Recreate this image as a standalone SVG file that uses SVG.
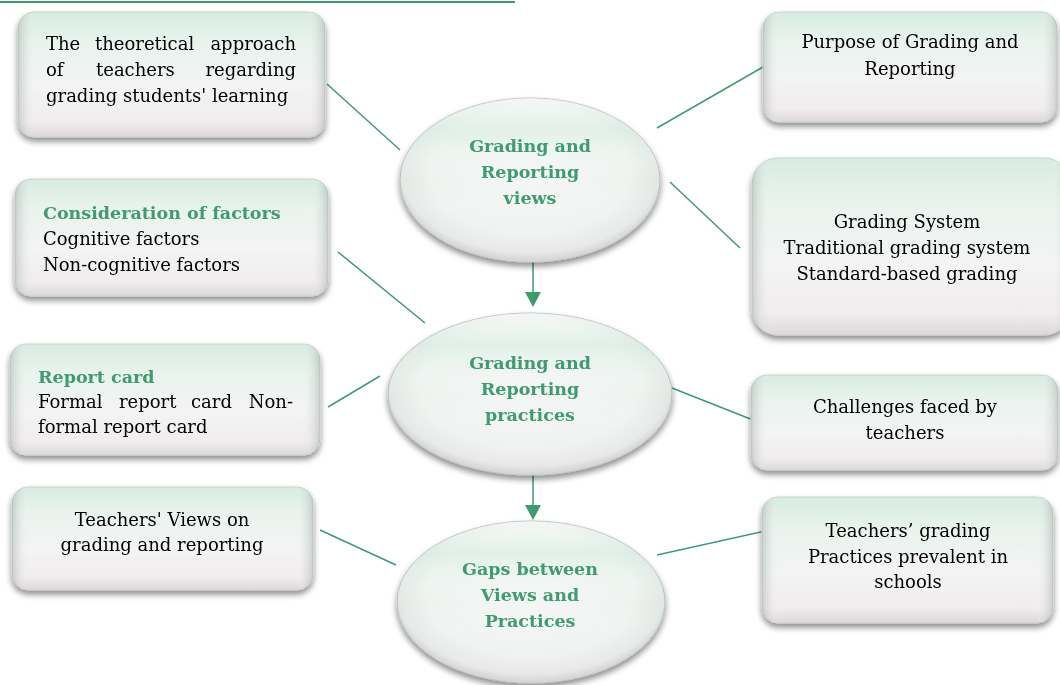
<svg xmlns="http://www.w3.org/2000/svg" width="1060" height="685" viewBox="0 0 1060 685">
  <defs>
    <linearGradient id="fillV" x1="0" y1="0" x2="0" y2="1">
      <stop offset="0" stop-color="#d6ece1"/>
      <stop offset="0.25" stop-color="#e9f3ee"/>
      <stop offset="0.6" stop-color="#f3f4f3"/>
      <stop offset="0.88" stop-color="#f1ecef"/>
      <stop offset="1" stop-color="#dcd8da"/>
    </linearGradient>
    <linearGradient id="edgeH" x1="0" y1="0" x2="1" y2="0">
      <stop offset="0" stop-color="#9aa59f" stop-opacity="0.45"/>
      <stop offset="0.06" stop-color="#ffffff" stop-opacity="0"/>
      <stop offset="0.94" stop-color="#ffffff" stop-opacity="0"/>
      <stop offset="1" stop-color="#9aa59f" stop-opacity="0.45"/>
    </linearGradient>
    <radialGradient id="ellFill" cx="0.5" cy="0.45" r="0.55">
      <stop offset="0" stop-color="#f4f6f5"/>
      <stop offset="0.7" stop-color="#eef3f0"/>
      <stop offset="0.9" stop-color="#e2e7e4"/>
      <stop offset="1" stop-color="#b9bfbc"/>
    </radialGradient>
    <linearGradient id="ellTint" x1="0" y1="0" x2="0" y2="1">
      <stop offset="0" stop-color="#ffffff" stop-opacity="0.5"/>
      <stop offset="0.2" stop-color="#d3ede0" stop-opacity="0.5"/>
      <stop offset="0.5" stop-color="#ffffff" stop-opacity="0"/>
      <stop offset="1" stop-color="#efe6ec" stop-opacity="0.5"/>
    </linearGradient>
    <filter id="shadow" x="-10%" y="-10%" width="120%" height="130%">
      <feGaussianBlur in="SourceAlpha" stdDeviation="3"/>
      <feOffset dx="0" dy="4" result="b"/>
      <feComponentTransfer><feFuncA type="linear" slope="0.45"/></feComponentTransfer>
      <feMerge><feMergeNode/><feMergeNode in="SourceGraphic"/></feMerge>
    </filter>
    <style>
      .box { fill: url(#fillV); stroke: #c9d2cd; stroke-width: 1; }
      .edge { fill: url(#edgeH); stroke: none; }
      .ell { fill: url(#ellFill); stroke: #b7beba; stroke-width: 1; }
      .tint { fill: url(#ellTint); stroke: none; }
      .t { font-family: "DejaVu Serif", "Liberation Serif", serif; font-size: 18px; fill: #000000; }
      .c { text-anchor: middle; }
      .e { text-anchor: end; }
      .g { fill: #3f9b6f; font-weight: bold; font-size: 17.5px; }
      .link { stroke: #3f9b6f; stroke-width: 1.5; fill: none; }
      .head { fill: #3f9b6f; }
    </style>
  </defs>

  <rect width="1060" height="685" fill="#ffffff"/>
  <!-- header rule -->
  <line x1="0" y1="2" x2="515" y2="2" stroke="#3f9b6f" stroke-width="2"/>

  <!-- connectors -->
  <g id="connectors">
    <line class="link" x1="327" y1="84" x2="400" y2="150"/>
    <line class="link" x1="763" y1="67" x2="657" y2="128"/>
    <line class="link" x1="670" y1="182" x2="740" y2="248"/>
    <line class="link" x1="338" y1="252" x2="425" y2="323"/>
    <line class="link" x1="328" y1="407" x2="380" y2="376"/>
    <line class="link" x1="672" y1="388" x2="753" y2="420"/>
    <line class="link" x1="320" y1="530" x2="396" y2="565"/>
    <line class="link" x1="657" y1="555" x2="765" y2="531"/>
    <line class="link" x1="533" y1="255" x2="533" y2="292"/>
    <path class="head" d="M525,292 L541,292 L533,307 Z"/>
    <line class="link" x1="533" y1="468" x2="533" y2="505"/>
    <path class="head" d="M525,505 L541,505 L533,520 Z"/>
  </g>

  <!-- left column -->
  <g id="node-theory" filter="url(#shadow)">
    <rect class="box" x="18" y="12" width="307" height="125" rx="16"/>
    <rect class="edge" x="18" y="12" width="307" height="125" rx="16"/>
    <text class="t" y="50"><tspan x="46">The</tspan><tspan x="95">theoretical</tspan><tspan x="296" class="e">approach</tspan></text>
    <text class="t" y="76"><tspan x="46">of</tspan><tspan x="96">teachers</tspan><tspan x="296" class="e">regarding</tspan></text>
    <text class="t" x="46" y="102">grading students' learning</text>
  </g>

  <g id="node-factors" filter="url(#shadow)">
    <rect class="box" x="15" y="179" width="313" height="117" rx="16"/>
    <rect class="edge" x="15" y="179" width="313" height="117" rx="16"/>
    <text class="t g" x="43" y="219">Consideration of factors</text>
    <text class="t" x="43" y="245">Cognitive factors</text>
    <text class="t" x="43" y="271">Non-cognitive factors</text>
  </g>

  <g id="node-reportcard" filter="url(#shadow)">
    <rect class="box" x="10" y="344" width="310" height="111" rx="16"/>
    <rect class="edge" x="10" y="344" width="310" height="111" rx="16"/>
    <text class="t g" x="38" y="383">Report card</text>
    <text class="t" y="408"><tspan x="38">Formal</tspan><tspan x="119">report</tspan><tspan x="191">card</tspan><tspan x="293" class="e">Non-</tspan></text>
    <text class="t" x="38" y="433">formal report card</text>
  </g>

  <g id="node-teacherviews" filter="url(#shadow)">
    <rect class="box" x="12" y="487" width="301" height="103" rx="16"/>
    <rect class="edge" x="12" y="487" width="301" height="103" rx="16"/>
    <text class="t c" x="162" y="526">Teachers' Views on</text>
    <text class="t c" x="162" y="551">grading and reporting</text>
  </g>

  <!-- right column -->
  <g id="node-purpose" filter="url(#shadow)">
    <rect class="box" x="763" y="12" width="294" height="110" rx="16"/>
    <rect class="edge" x="763" y="12" width="294" height="110" rx="16"/>
    <text class="t c" x="910" y="48">Purpose of Grading and</text>
    <text class="t c" x="910" y="75">Reporting</text>
  </g>

  <g id="node-system" filter="url(#shadow)">
    <rect class="box" x="752" y="158" width="318" height="177" rx="26"/>
    <rect class="edge" x="752" y="158" width="318" height="177" rx="26"/>
    <text class="t c" x="907" y="228">Grading System</text>
    <text class="t c" x="907" y="254">Traditional grading system</text>
    <text class="t c" x="907" y="280">Standard-based grading</text>
  </g>

  <g id="node-challenges" filter="url(#shadow)">
    <rect class="box" x="751" y="375" width="307" height="95" rx="16"/>
    <rect class="edge" x="751" y="375" width="307" height="95" rx="16"/>
    <text class="t c" x="905" y="413">Challenges faced by</text>
    <text class="t c" x="905" y="439">teachers</text>
  </g>

  <g id="node-practices" filter="url(#shadow)">
    <rect class="box" x="762" y="497" width="291" height="126" rx="16"/>
    <rect class="edge" x="762" y="497" width="291" height="126" rx="16"/>
    <text class="t c" x="908" y="537">Teachers’ grading</text>
    <text class="t c" x="908" y="563">Practices prevalent in</text>
    <text class="t c" x="908" y="588">schools</text>
  </g>

  <!-- central column -->
  <g id="node-views" filter="url(#shadow)">
    <ellipse class="ell" cx="530" cy="180" rx="130" ry="82"/>
    <ellipse class="tint" cx="530" cy="180" rx="130" ry="82"/>
    <text class="t c g" x="530" y="152">Grading and</text>
    <text class="t c g" x="530" y="178">Reporting</text>
    <text class="t c g" x="530" y="204">views</text>
  </g>

  <g id="node-gradingpractices" filter="url(#shadow)">
    <ellipse class="ell" cx="530" cy="394" rx="142" ry="81"/>
    <ellipse class="tint" cx="530" cy="394" rx="142" ry="81"/>
    <text class="t c g" x="530" y="369">Grading and</text>
    <text class="t c g" x="530" y="395">Reporting</text>
    <text class="t c g" x="530" y="421">practices</text>
  </g>

  <g id="node-gaps" filter="url(#shadow)">
    <ellipse class="ell" cx="531" cy="602" rx="134" ry="81"/>
    <ellipse class="tint" cx="531" cy="602" rx="134" ry="81"/>
    <text class="t c g" x="530" y="575">Gaps between</text>
    <text class="t c g" x="530" y="601">Views and</text>
    <text class="t c g" x="530" y="627">Practices</text>
  </g>
</svg>
